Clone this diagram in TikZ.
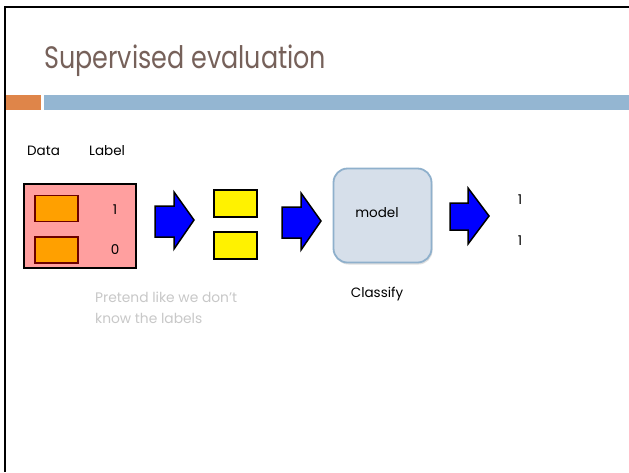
\documentclass[tikz,border=0pt]{standalone}
\usepackage{fontspec}
\setmainfont{Poppins}
\usetikzlibrary{shadows}
\definecolor{titlec}{HTML}{76615A}
\definecolor{orbar}{HTML}{DF8549}
\definecolor{blbar}{HTML}{94B6D2}
\definecolor{pinkf}{HTML}{FF9F9F}
\definecolor{orf}{HTML}{FFA000}
\definecolor{orb}{HTML}{6B0000}
\definecolor{modf}{HTML}{D6DFEA}
\definecolor{modb}{HTML}{8FB0CC}
\definecolor{grayt}{HTML}{C8C8C8}
\tikzset{
  lbl/.style={font=\fontsize{13.5}{16}\selectfont, inner sep=0pt, anchor=base},
  databox/.style={draw=orb, fill=orf, line width=1.6pt, minimum width=43pt, minimum height=26pt, inner sep=0pt},
  ybox/.style={draw=black, fill=yellow, line width=1.3pt, minimum width=43pt, minimum height=27pt, inner sep=0pt},
  barrow/.style={draw=black, fill=blue, line width=1.5pt, line join=miter},
  notet/.style={lbl, anchor=base west, text=grayt, font=\fontsize{13.8}{16}\selectfont}
}
\begin{document}
\begin{tikzpicture}[x=1pt,y=-1pt]
\useasboundingbox (0,0) rectangle (629,472);
\fill[white] (0,0) rectangle (629,472);
% slide frame
\draw[line width=2.2pt] (5,472) -- (5,7) -- (629,7);
% title
\node[anchor=base west, text=titlec, font=\fontsize{31}{36}\selectfont, inner sep=0pt, xscale=0.82] (title) at (44,68) {Supervised evaluation};
% bars
\fill[orbar] (6,95) rectangle (41,110);
\fill[blbar] (44,95) rectangle (629,110);
% headers
\node[lbl, anchor=base west] (hdata) at (27,155) {Data};
\node[lbl, anchor=base west] (hlabel) at (89,155) {Label};
% pink box
\node[draw=black, fill=pinkf, line width=1.3pt, minimum width=112pt, minimum height=84pt, inner sep=0pt] (pink) at (80,226) {};
\node[databox] (d1) at (56.5,208.5) {};
\node[databox] (d2) at (56.5,250) {};
\node[lbl] (l1) at (115,214) {1};
\node[lbl] (l0) at (115,254) {0};
% arrow 1
\draw[barrow] (155,206) -- (174,206) -- (174,192) -- (194,220) -- (174,249) -- (174,237) -- (155,237) -- cycle;
% yellow boxes
\node[ybox] (y1) at (235.5,203.5) {};
\node[ybox] (y2) at (235.5,245.5) {};
% arrow 2
\draw[barrow] (282,207) -- (301,207) -- (301,193) -- (321,221) -- (301,250) -- (301,238) -- (282,238) -- cycle;
% model
\node[draw=modb, fill=modf, line width=1.8pt, rounded corners=14pt, minimum width=98pt, minimum height=94pt, inner sep=0pt,
  drop shadow={shadow xshift=1pt, shadow yshift=-2pt, opacity=0.25}] (model) at (382.5,215.5) {};
\node[lbl] (mtext) at (377,217) {model};
\node[lbl] (classify) at (377,297) {Classify};
% arrow 3
\draw[barrow] (450,203) -- (468,203) -- (468,188) -- (489,216) -- (468,244) -- (468,230) -- (450,230) -- cycle;
% outputs
\node[lbl] (o1) at (520,204) {1};
\node[lbl] (o2) at (520,245) {1};
% note
\node[notet] (note1) at (95,302) {Pretend like we don’t};
\node[notet] (note2) at (95,323) {know the labels};
\end{tikzpicture}
\end{document}
